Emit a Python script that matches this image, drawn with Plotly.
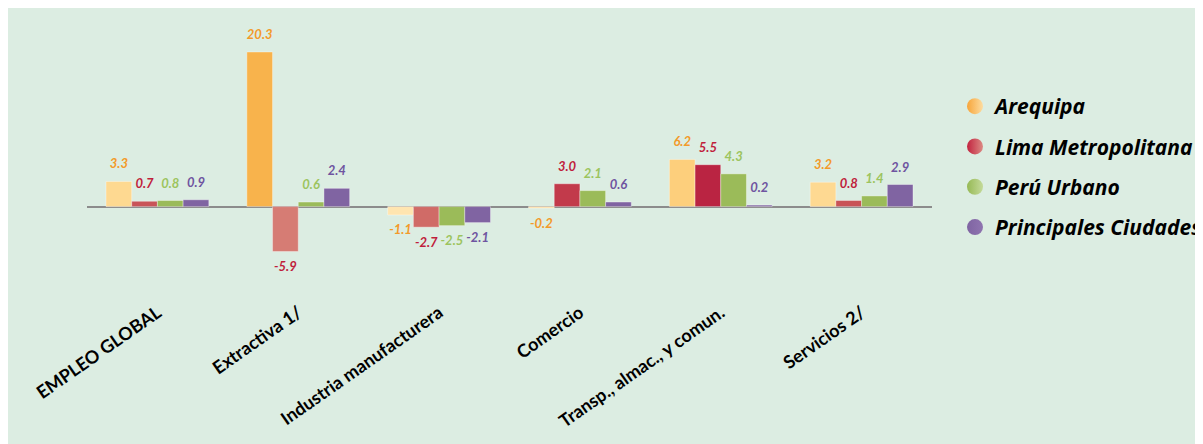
import plotly.graph_objects as go

# ── data ──────────────────────────────────────────────────────────────────────
CATEGORIES = ["EMPLEO GLOBAL", "Extractiva 1/", "Industria manufacturera",
              "Comercio", "Transp., almac., y comun.", "Servicios 2/"]
SERIES = ["Arequipa", "Lima Metropolitana", "Perú Urbano", "Principales Ciudades"]
AREQUIPA    = [3.3, 20.3, -1.1, -0.2, 6.2, 3.2]
LIMA        = [0.7, -5.9, -2.7, 3.0, 5.5, 0.8]
PERU        = [0.8, 0.6, -2.5, 2.1, 4.3, 1.4]
PRINCIPALES = [0.9, 2.4, -2.1, 0.6, 0.2, 2.9]
VALUES = [AREQUIPA, LIMA, PERU, PRINCIPALES]

# ── style ─────────────────────────────────────────────────────────────────────
W, H = 1210, 470
L, R, T, B = 79, 285, 12, 180
BG = "#dcede2"
FONT = "Lato"

BAR_STYLE = [
    dict(colorscale=[[0, "#ffe7b6"], [0.25, "#fed88e"], [0.45, "#fdc76c"], [1, "#f8b24a"]],
         cmin=-2, cmax=21),
    dict(colorscale=[[0, "#d67d74"], [0.5, "#cb5c5c"], [0.75, "#c23a4b"], [1, "#b82040"]],
         cmin=-6, cmax=6),
    dict(colorscale=[[0, "#9bbb59"], [1, "#9bbb59"]], cmin=0, cmax=1),
    dict(colorscale=[[0, "#8064a2"], [1, "#8064a2"]], cmin=0, cmax=1),
]
LABEL_COLOR = ["#f39a2a", "#c01e3c", "#9cc45e", "#6f54a0"]
LEGEND_COLOR = [("#f7a53a", "#fddca0"), ("#c2233f", "#dc8a84"),
                ("#96b955", "#c4da9a"), ("#7f64a2", "#8f74b0")]

fig = go.Figure()

for name, vals, st in zip(SERIES, VALUES, BAR_STYLE):
    fig.add_trace(go.Bar(
        x=CATEGORIES, y=vals, name=name, showlegend=False, hoverinfo="skip",
        marker=dict(color=vals, colorscale=st["colorscale"], cmin=st["cmin"],
                    cmax=st["cmax"], line=dict(color="rgba(255,255,255,0.45)", width=0.8)),
    ))

# value labels, grouped like the bars
for name, vals, col in zip(SERIES, VALUES, LABEL_COLOR):
    fig.add_trace(go.Scatter(
        x=CATEGORIES, y=vals, mode="markers+text", showlegend=False,
        hoverinfo="skip", cliponaxis=False,
        text=[f"{v:.1f}" for v in vals],
        textposition=["top center" if v >= 0 else "bottom center" for v in vals],
        marker=dict(size=14, opacity=0),
        textfont=dict(family=FONT, size=13, color=col, weight="bold", style="italic"),
    ))

# legend entries (on a hidden overlay axis so they don't join the grouping)
for name, (c1, c2) in zip(SERIES, LEGEND_COLOR):
    fig.add_trace(go.Scatter(
        x=[None], y=[None], xaxis="x2", yaxis="y2", mode="markers", name=name,
        legendgroup=name,
        marker=dict(symbol="circle", size=16, color=c1,
                    gradient=dict(type="horizontal", color=c2)),
    ))

pw, ph = W - L - R, H - T - B

fig.update_layout(
    width=W, height=H,
    margin=dict(l=L, r=R, t=T, b=B),
    paper_bgcolor=BG, plot_bgcolor=BG,
    barmode="group", bargap=0.27, bargroupgap=0,
    scattermode="group", scattergap=0.27,
    xaxis=dict(tickangle=-35, automargin=False, showgrid=False, ticks="",
               showline=False, zeroline=False,
               tickfont=dict(family=FONT, size=18, color="black", weight="bold")),
    yaxis=dict(range=[-12, 24.5], automargin=False, showgrid=False,
               showticklabels=False, zeroline=True, zerolinecolor="#8c8c8c",
               zerolinewidth=2),
    xaxis2=dict(overlaying="x", visible=False),
    yaxis2=dict(overlaying="y", visible=False),
    legend=dict(x=(947 - L) / pw, xanchor="left", y=1 - (78 - T) / ph,
                yanchor="top", bgcolor="rgba(0,0,0,0)", tracegroupgap=10,
                font=dict(family="Open Sans", size=21, color="black", weight="bold",
                          style="italic")),
    showlegend=True,
)

fig.write_html("out.html")
